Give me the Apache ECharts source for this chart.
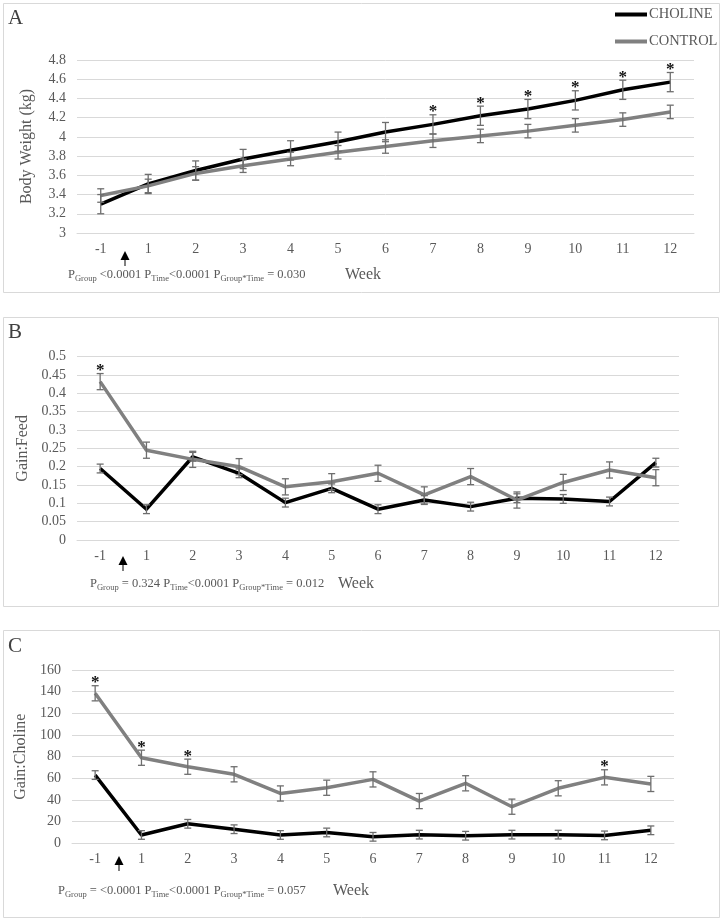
<!DOCTYPE html>
<html>
<head>
<meta charset="utf-8">
<script src="https://cdn.jsdelivr.net/npm/echarts@6/dist/echarts.min.js"></script>
<style>html,body{margin:0;padding:0;background:#fff}#c{width:721px;height:920px}</style>
</head>
<body>
<div id="c"></div>
<script>
// ---- data ----
const weeks = ['-1','1','2','3','4','5','6','7','8','9','10','11','12'];

const bwCholine   = [3.30,3.51,3.65,3.77,3.86,3.95,4.05,4.13,4.22,4.29,4.38,4.49,4.57];
const bwCholineSE = [0.10,0.10,0.10,0.10,0.10,0.10,0.10,0.10,0.10,0.10,0.10,0.10,0.10];
const bwControl   = [3.39,3.49,3.62,3.70,3.77,3.84,3.90,3.96,4.01,4.06,4.12,4.18,4.26];
const bwControlSE = [0.07,0.07,0.07,0.07,0.07,0.07,0.07,0.07,0.07,0.07,0.07,0.07,0.07];
const bwSig       = [0,0,0,0,0,0,0,1,1,1,1,1,1];

const gfCholine   = [0.195,0.084,0.227,0.182,0.102,0.141,0.084,0.109,0.091,0.114,0.112,0.105,0.211];
const gfCholineSE = [0.012,0.012,0.012,0.012,0.012,0.012,0.012,0.012,0.012,0.012,0.012,0.012,0.012];
const gfControl   = [0.432,0.245,0.220,0.200,0.145,0.159,0.182,0.123,0.173,0.109,0.157,0.191,0.170];
const gfControlSE = [0.022,0.022,0.022,0.022,0.022,0.022,0.022,0.022,0.022,0.022,0.022,0.022,0.022];
const gfSig       = [1,0,0,0,0,0,0,0,0,0,0,0,0];

const gcCholine   = [63,7.7,18,13,7.7,10,6,8,7,8,8,7.3,12];
const gcCholineSE = [4,4,4,4,4,4,4,4,4,4,4,4,4];
const gcControl   = [138.5,79,70.7,63.7,46,51.3,59,39,55.4,33.8,50.8,60.9,54.8];
const gcControlSE = [7,7,7,7,7,7,7,7,7,7,7,7,7];
const gcSig       = [1,1,1,0,0,0,0,0,0,0,0,1,0];

const yTitles = ['Body Weight (kg)','Gain:Feed','Gain:Choline'];
const panelLetters = ['A','B','C'];
const footers = [
  '{p|P}{s|Group}{p| <0.0001 P}{s|Time}{p|<0.0001 P}{s|Group*Time}{p| = 0.030}',
  '{p|P}{s|Group}{p| = 0.324 P}{s|Time}{p|<0.0001 P}{s|Group*Time}{p| = 0.012}',
  '{p|P}{s|Group}{p| = <0.0001 P}{s|Time}{p|<0.0001 P}{s|Group*Time}{p| = 0.057}'
];

// ---- styles ----
const FONT = 'Liberation Serif';
const BLACK = '#000000';
const GREY = '#808080';
const ERR = '#6e6e6e';
const TXT = '#595959';

const grids = [
  {left:77, top:60, width:617, height:173},
  {left:77, top:356.7, width:602, height:183.3},
  {left:72, top:670, width:602, height:173.3}
];
const yCfg = [
  {min:3, max:4.8, interval:0.2, gap:42},
  {min:0, max:0.5, interval:0.05, gap:40},
  {min:0, max:160, interval:20, gap:32}
];

function lineSeries(name, idx, vals, color) {
  return {type:'line', name, xAxisIndex:idx, yAxisIndex:idx, data:vals, symbol:'none',
    lineStyle:{color, width:3.5, join:'round'}, itemStyle:{color}, z:3, silent:true};
}
function errSeries(idx, vals, ses) {
  return {type:'custom', xAxisIndex:idx, yAxisIndex:idx, silent:true, z:5,
    data: vals.map((v,i)=>[i, v, ses[i]]),
    renderItem:(params, api)=>{
      const x = api.value(0), v = api.value(1), e = api.value(2);
      const t = api.coord([x, v+e]), b = api.coord([x, v-e]);
      const s = {stroke:ERR, lineWidth:1.3};
      return {type:'group', children:[
        {type:'line', shape:{x1:t[0],y1:t[1],x2:b[0],y2:b[1]}, style:s},
        {type:'line', shape:{x1:t[0]-3.5,y1:t[1],x2:t[0]+3.5,y2:t[1]}, style:s},
        {type:'line', shape:{x1:b[0]-3.5,y1:b[1],x2:b[0]+3.5,y2:b[1]}, style:s}
      ]};
    }};
}
function sigSeries(idx, vals, ses, sig) {
  const d = [];
  sig.forEach((f,i)=>{ if (f) d.push([i, vals[i] + ses[i]]); });
  return {type:'custom', xAxisIndex:idx, yAxisIndex:idx, silent:true, z:6, data:d,
    renderItem:(params, api)=>{
      const p = api.coord([api.value(0), api.value(1)]);
      return {type:'text', x:p[0], y:p[1]-3,
        style:{text:'*', fontSize:17, fontWeight:'bold', fontFamily:FONT, fill:'#111', align:'center', verticalAlign:'middle'}};
    }};
}

const xAxes = grids.map((g,i)=>({
  type:'category', gridIndex:i, data:weeks, boundaryGap:true,
  axisTick:{show:false}, axisLine:{lineStyle:{color:'#d9d9d9', width:1}},
  axisLabel:{color:TXT, fontSize:14, fontFamily:FONT, margin:9}
}));
const yAxes = grids.map((g,i)=>({
  type:'value', gridIndex:i, min:yCfg[i].min, max:yCfg[i].max, interval:yCfg[i].interval,
  name:yTitles[i], nameLocation:'middle', nameGap:yCfg[i].gap, nameRotate:90,
  nameTextStyle:{color:TXT, fontSize:16, fontFamily:FONT},
  axisLine:{show:false}, axisTick:{show:false},
  splitLine:{lineStyle:{color:'#d9d9d9', width:1}},
  axisLabel:{color:TXT, fontSize:14, fontFamily:FONT, margin:11}
}));

const series = [
  lineSeries('CHOLINE',0,bwCholine,BLACK), lineSeries('CONTROL',0,bwControl,GREY),
  errSeries(0,bwCholine,bwCholineSE), errSeries(0,bwControl,bwControlSE), sigSeries(0,bwCholine,bwCholineSE,bwSig),
  lineSeries('CHOLINE',1,gfCholine,BLACK), lineSeries('CONTROL',1,gfControl,GREY),
  errSeries(1,gfCholine,gfCholineSE), errSeries(1,gfControl,gfControlSE), sigSeries(1,gfControl,gfControlSE,gfSig),
  lineSeries('CHOLINE',2,gcCholine,BLACK), lineSeries('CONTROL',2,gcControl,GREY),
  errSeries(2,gcCholine,gcCholineSE), errSeries(2,gcControl,gcControlSE), sigSeries(2,gcControl,gcControlSE,gcSig)
];

// panel frames / annotations
const frames = [
  {x:3, y:3, w:716, h:289, letterY:8, footY:275, footX:68, weekX:345, arrowX:125, arrowY:251},
  {x:3, y:317, w:715, h:289, letterY:322, footY:584, footX:90, weekX:338, arrowX:123, arrowY:556},
  {x:3, y:630, w:716, h:287, letterY:636, footY:891, footX:58, weekX:333, arrowX:119, arrowY:856}
];
const graphic = [];
frames.forEach((f,i)=>{
  graphic.push({type:'rect', shape:{x:f.x+0.5, y:f.y+0.5, width:f.w, height:f.h}, style:{fill:null, stroke:'#d9d9d9', lineWidth:1}, z:-1});
  graphic.push({type:'text', x:8, y:f.letterY, style:{text:panelLetters[i], fontSize:21, fontFamily:FONT, fill:'#404040'}});
  graphic.push({type:'text', x:f.footX, y:f.footY, style:{text:footers[i], fontFamily:FONT, fill:TXT, verticalAlign:'middle',
    rich:{p:{fontSize:12.5, fontFamily:FONT, fill:TXT, lineHeight:16}, s:{fontSize:8.5, fontFamily:FONT, fill:TXT, lineHeight:10, verticalAlign:'bottom'}}}});
  graphic.push({type:'text', x:f.weekX, y:f.footY, style:{text:'Week', fontSize:16, fontFamily:FONT, fill:TXT, verticalAlign:'middle'}});
  graphic.push({type:'polygon', shape:{points:[[f.arrowX, f.arrowY],[f.arrowX-4.5, f.arrowY+9],[f.arrowX+4.5, f.arrowY+9]]}, style:{fill:'#000'}});
  graphic.push({type:'line', shape:{x1:f.arrowX, y1:f.arrowY+6, x2:f.arrowX, y2:f.arrowY+15}, style:{stroke:'#000', lineWidth:1}});
});

const chart = echarts.init(document.getElementById('c'), null, {renderer:'canvas'});
chart.setOption({
  animation:false,
  backgroundColor:'#fff',
  grid: grids,
  xAxis: xAxes,
  yAxis: yAxes,
  legend:{data:['CHOLINE','CONTROL'], orient:'vertical', left:615, top:7, itemWidth:32, itemHeight:4, itemGap:12,
    icon:'rect', padding:0, selectedMode:false,
    textStyle:{color:TXT, fontSize:14.5, fontFamily:FONT, padding:[0,0,0,-3]}},
  graphic: graphic,
  series: series
});
</script>
</body>
</html>
